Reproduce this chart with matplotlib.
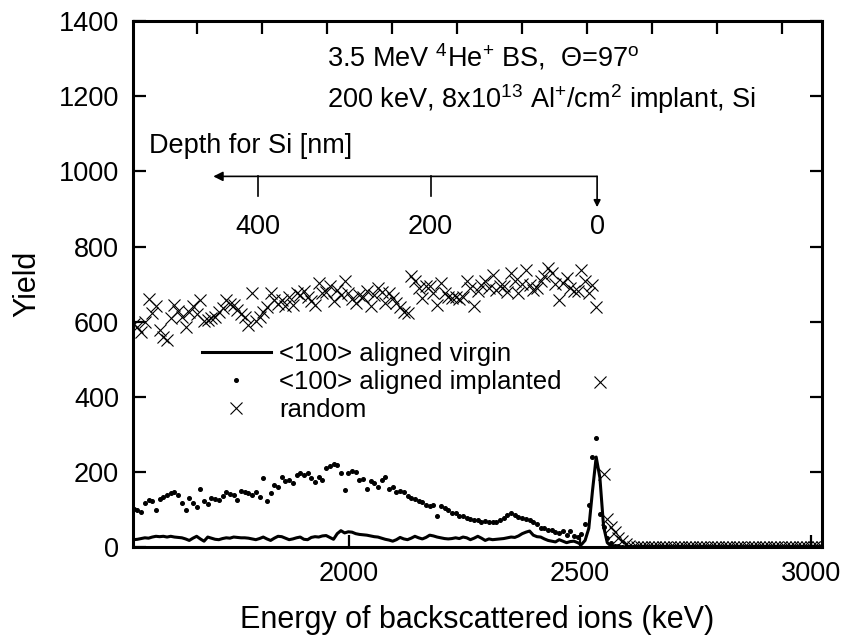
import numpy as np
import matplotlib
matplotlib.use("Agg")
import matplotlib.pyplot as plt

plt.rcParams['font.family'] = ['Liberation Sans', 'DejaVu Sans']
plt.rcParams['mathtext.fontset'] = 'custom'
plt.rcParams['mathtext.rm'] = 'Liberation Sans'
plt.rcParams['mathtext.it'] = 'Liberation Sans:italic'
plt.rcParams['mathtext.default'] = 'regular'

# channel calibration (keV) - one value per 8 keV channel, rows of 10 channels
E_START = 1535
E_STEP = 8

# <100> aligned virgin (line)
virgin = [
    20, 21, 23, 25, 24, 27, 29, 28, 29, 27,     # 1535
    29, 27, 26, 25, 22, 18, 24, 29, 22, 16,     # 1615
    27, 24, 21, 20, 23, 25, 24, 27, 26, 25,     # 1695
    25, 24, 22, 20, 23, 27, 22, 18, 24, 29,     # 1775
    28, 24, 20, 22, 25, 27, 21, 20, 26, 28,     # 1855
    27, 30, 31, 26, 21, 36, 44, 38, 41, 40,     # 1935
    36, 34, 33, 32, 30, 28, 27, 24, 21, 19,     # 2015
    16, 20, 26, 22, 20, 24, 29, 25, 22, 26,     # 2095
    32, 30, 27, 25, 23, 22, 23, 25, 23, 27,     # 2175
    25, 20, 24, 29, 24, 18, 22, 20, 21, 22,     # 2255
    23, 25, 27, 26, 30, 36, 40, 43, 32, 28,     # 2335
    27, 22, 18, 16, 14, 20, 16, 12, 15, 16,     # 2415
    12, 7, 18, 50, 150, 240, 185, 55, 12, 3,    # 2495
    1, 0, 0, 0, 0, 0, 0, 0, 0, 0,               # 2575
    0, 0, 0, 0, 0, 0, 0, 0, 0, 0,               # 2655
    0, 0, 0, 0, 0, 0, 0, 0, 0, 0,               # 2735
    0, 0, 0, 0, 0, 0, 0, 0, 0, 0,               # 2815
    0, 0, 0, 0, 0, 0, 0, 0, 0, 0,               # 2895
    0, 0, 0, 0, 0, 0, 0, 0, 0, 0,               # 2975
]

# <100> aligned implanted (dots)
implanted = [
    102, 98, 95, 118, 125, 122, 99, 128, 134, 140,      # 1535
    145, 147, 140, 118, 100, 130, 118, 106, 155, 122,   # 1615
    116, 131, 129, 125, 135, 146, 142, 138, 126, 150,   # 1695
    148, 145, 140, 147, 133, 183, 124, 145, 165, 161,   # 1775
    187, 177, 179, 170, 192, 197, 192, 197, 185, 174,   # 1855
    187, 180, 210, 215, 222, 220, 198, 152, 198, 204,   # 1935
    200, 179, 182, 156, 175, 170, 161, 180, 186, 154,   # 2015
    161, 147, 150, 146, 135, 130, 127, 124, 120, 112,   # 2095
    110, 112, 82, 110, 104, 100, 92, 90, 82, 82,        # 2175
    78, 76, 72, 72, 68, 70, 68, 66, 68, 72,             # 2255
    78, 86, 90, 86, 80, 78, 75, 72, 66, 62,             # 2335
    52, 50, 46, 45, 40, 38, 44, 32, 44, 30,             # 2415
    27, 34, 63, 112, 240, 291, 89, 54, 25, 10,          # 2495
    4, 2, 1, 0, 0, 0, 0, 0, 0, 0,                       # 2575
    0, 0, 0, 0, 0, 0, 0, 0, 0, 0,                       # 2655
    0, 0, 0, 0, 0, 0, 0, 0, 0, 0,                       # 2735
    0, 0, 0, 0, 0, 0, 0, 0, 0, 0,                       # 2815
    0, 0, 0, 0, 0, 0, 0, 0, 0, 0,                       # 2895
    0, 0, 0, 0, 0, 0, 0, 0, 0, 0,                       # 2975
]

# random (crosses)
random_yield = [
    595, 585, 574, 600, 660, 623, 641, 579, 560, 552,   # 1535
    610, 645, 630, 614, 587, 627, 641, 620, 659, 601,   # 1615
    605, 610, 614, 627, 636, 659, 648, 645, 632, 620,   # 1695
    614, 592, 676, 601, 614, 627, 640, 676, 659, 648,   # 1775
    659, 641, 667, 645, 676, 670, 681, 667, 655, 645,   # 1855
    703, 676, 680, 694, 654, 685, 670, 708, 676, 660,   # 1935
    650, 672, 665, 681, 641, 672, 690, 680, 650, 676,   # 2015
    663, 650, 640, 627, 623, 721, 708, 690, 663, 694,   # 2095
    694, 676, 645, 703, 676, 667, 663, 667, 660, 667,   # 2175
    708, 690, 641, 681, 699, 708, 690, 725, 685, 694,   # 2255
    694, 680, 730, 708, 676, 700, 739, 699, 685, 690,   # 2335
    708, 721, 743, 730, 700, 659, 703, 716, 690, 681,   # 2415
    681, 739, 708, 676, 699, 640, 441, 196, 75, 55,     # 2495
    40, 25, 16, 8, 3, 1, 0, 0, 0, 0,                    # 2575
    0, 0, 0, 0, 0, 0, 0, 0, 0, 0,                       # 2655
    0, 0, 0, 0, 0, 0, 0, 0, 0, 0,                       # 2735
    0, 0, 0, 0, 0, 0, 0, 0, 0, 0,                       # 2815
    0, 0, 0, 0, 0, 0, 0, 0, 0, 0,                       # 2895
    0, 0, 0, 0, 0, 0, 0, 0, 0, 0,                       # 2975
]

energy = E_START + E_STEP * np.arange(len(virgin))

# depth scale for Si (nm -> keV)
depth_labels = [400, 200, 0]
depth_energy = [1803, 2177, 2537]
depth_arrow_end = 1707

top_ticks = [1672, 1812, 1953, 2093, 2234, 2374, 2515, 2656, 2796, 2937]

fig = plt.figure(figsize=(8.46, 6.43), dpi=100)
ax = fig.add_axes([0.157, 0.149, 0.815, 0.818])

ax.plot(energy, random_yield, linestyle='none', marker='x', color='black',
        markersize=8, markeredgewidth=0.8, label='random')
ax.plot(energy, implanted, linestyle='none', marker='o', color='black',
        markersize=2.6, label='<100> aligned implanted')
ax.plot(energy, virgin, color='black', linewidth=2.2, label='<100> aligned virgin')

ax.set_xlim(1533, 3024)
ax.set_ylim(0, 1400)
ax.set_xticks([2000, 2500, 3000])
ax.set_yticks(np.arange(0, 1401, 200))
ax.tick_params(direction='in', length=9, width=1.6, labelsize=19.5, pad=10,
               right=True)
for sp in ax.spines.values():
    sp.set_linewidth(2.2)

ax_top = ax.twiny()
ax_top.set_xlim(ax.get_xlim())
ax_top.set_xticks(top_ticks)
ax_top.tick_params(direction='in', length=9, width=1.6, labeltop=False)

ax.set_xlabel('Energy of backscattered ions (keV)', fontsize=22, labelpad=13)
ax.set_ylabel('Yield', fontsize=22, labelpad=12)

# annotation text
ax.text(1953, 1304, r'3.5 MeV $^{4}$He$^{+}$ BS,  Θ=97$^{o}$', fontsize=19.5,
        va='center', ha='left')
ax.text(1953, 1193, r'200 keV, 8x10$^{13}$ Al$^{+}$/cm$^{2}$ implant, Si',
        fontsize=19.5, va='center', ha='left')
ax.text(1567, 1067, 'Depth for Si [nm]', fontsize=19.5, va='center', ha='left')

# depth axis
ax.annotate('', xy=(depth_arrow_end, 987), xytext=(depth_energy[-1], 987),
            arrowprops=dict(arrowstyle='-|>', color='black', lw=1.2,
                            mutation_scale=14, shrinkA=0, shrinkB=0))
ax.annotate('', xy=(depth_energy[-1], 905), xytext=(depth_energy[-1], 987),
            arrowprops=dict(arrowstyle='-|>', color='black', lw=1.2,
                            mutation_scale=10, shrinkA=0, shrinkB=0))
for d, e in zip(depth_labels, depth_energy):
    if d != 0:
        ax.plot([e, e], [987, 935], color='black', linewidth=1.2)
    ax.text(e, 852, str(d), fontsize=19.5, ha='center', va='center')

handles, labels = ax.get_legend_handles_labels()
order = [2, 1, 0]
ax.legend([handles[i] for i in order], [labels[i] for i in order],
          loc='upper left', bbox_to_anchor=(0.10, 0.39), frameon=False,
          fontsize=18.5, handlelength=2.7, handletextpad=0.3, borderpad=0,
          borderaxespad=0, labelspacing=0.15)

fig.savefig('out.png', dpi=100)
